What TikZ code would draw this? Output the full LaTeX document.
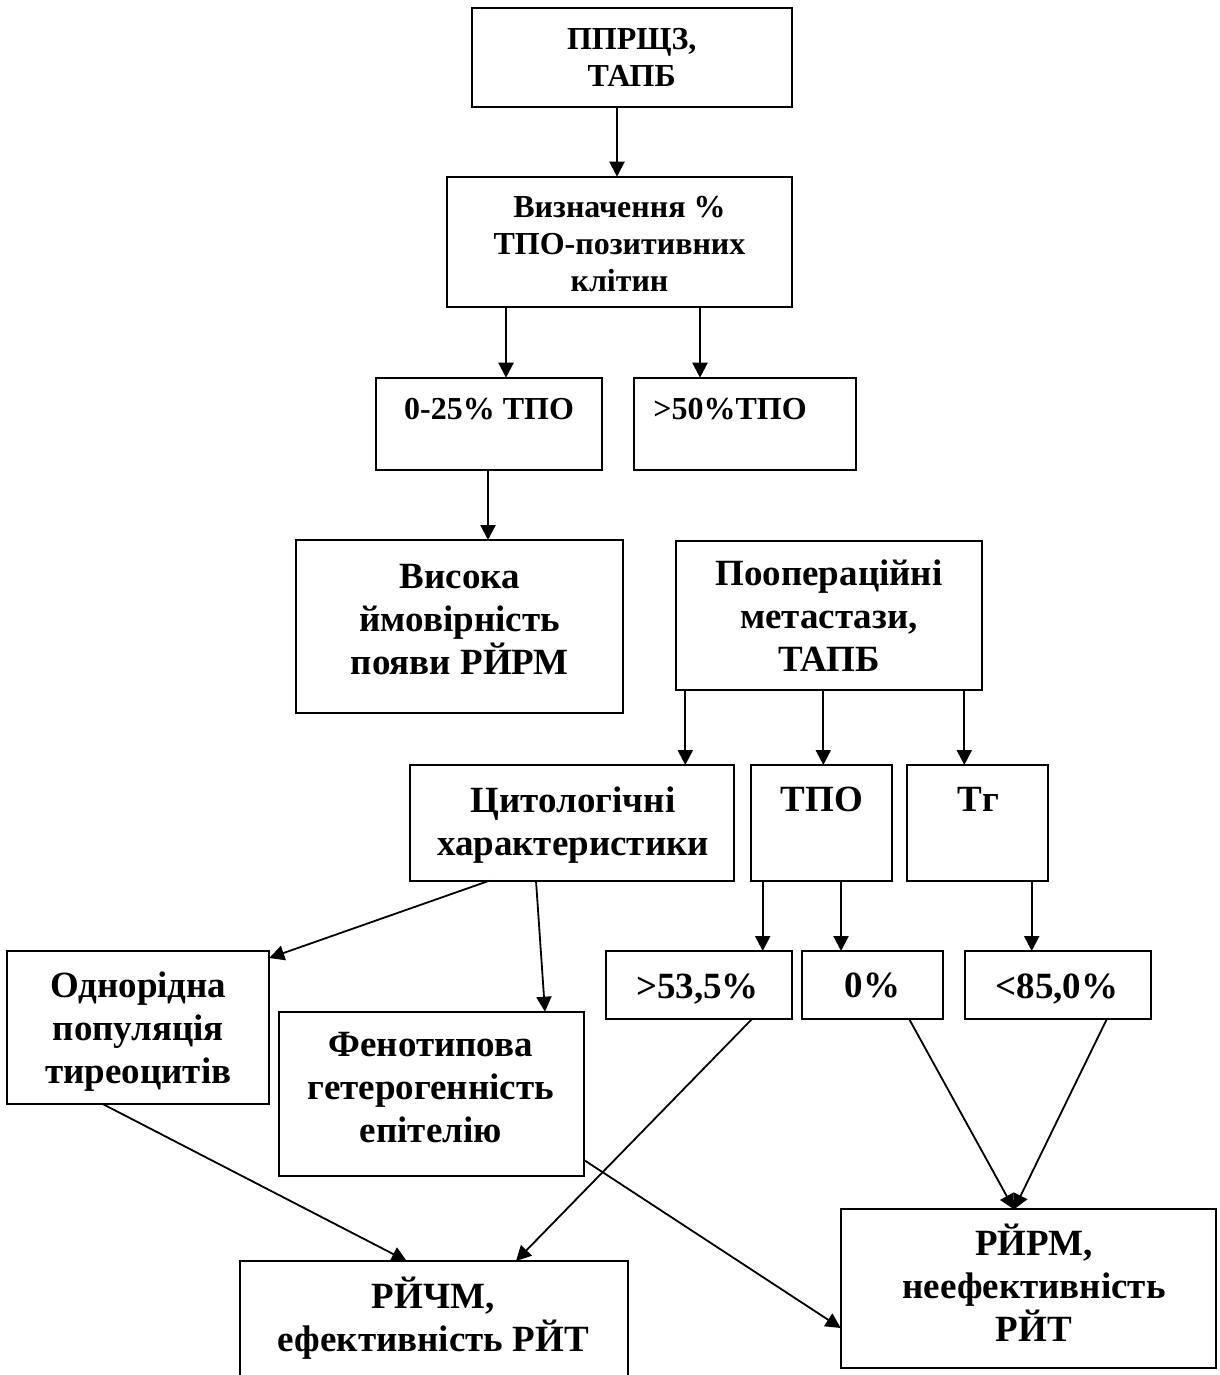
\documentclass[tikz,border=0pt]{standalone}
\usepackage{fontspec}
\setmainfont{Liberation Serif}
\usetikzlibrary{arrows.meta,positioning,calc}
\tikzset{
  >={Triangle[length=15pt,width=15pt]},
  every node/.style={inner sep=0pt,outer sep=0pt,text=black},
  box/.style={draw=black,line width=2.2pt,anchor=north west},
  txt/.style={font=\fontsize{32}{37}\selectfont\bfseries,align=center},
  bigtxt/.style={font=\fontsize{37}{43}\selectfont\bfseries,align=center},
  arrow/.style={->,line width=2.2pt,draw=black},
  slant/.style={->,line width=1.8pt,draw=black},
}

\begin{document}
\begin{tikzpicture}[x=1pt,y=-1pt]
\clip (0,0) rectangle (1219,1375);

% Row 1-3: ТАПБ and ТПО share
\node[box,minimum width=320pt,minimum height=98.4pt] (top) at (471.7,8.3) {};
\node[txt] (topt) at (631.7,57) {ППРЩЗ,\\ТАПБ};
\node[box,minimum width=344.4pt,minimum height=130pt] (vyzn) at (447.3,176.7) {};
\node[txt] (vyznt) at (619.5,244) {Визначення \%\\ТПО-позитивних\\клітин};
\node[box,minimum width=225.7pt,minimum height=92.3pt] (low25) at (376,377.7) {};
\node[txt] (low25t) at (489,409) {0-25\% ТПО};
\node[box,minimum width=222pt,minimum height=92.3pt] (high50) at (634,377.7) {};
\node[txt] (high50t) at (730,409) {>50\%ТПО};
\draw[arrow] (617,0 |- top.south) -- (617,0 |- vyzn.north);
\draw[arrow] (506,0 |- vyzn.south) -- (506,0 |- low25.north);
\draw[arrow] (700,0 |- vyzn.south) -- (700,0 |- high50.north);

% Row 4: prognosis and metastases
\node[box,minimum width=327.3pt,minimum height=173.3pt] (vysoka) at (296,540) {};
\node[bigtxt] (vysokat) at (459.7,620) {Висока\\ймовірність\\появи РЙРМ};
\node[box,minimum width=305.7pt,minimum height=149.3pt] (meta) at (676,540.7) {};
\node[bigtxt] (metat) at (829,616) {Поопераційні\\метастази,\\ТАПБ};
\draw[arrow] (488,0 |- low25.south) -- (488,0 |- vysoka.north);

% Row 5: cytology, ТПО, Тг
\node[box,minimum width=324.3pt,minimum height=115.7pt] (cyto) at (410,765) {};
\node[bigtxt] (cytot) at (573,825) {Цитологічні\\характеристики};
\node[box,minimum width=141.3pt,minimum height=115.7pt] (tpo) at (751,765) {};
\node[bigtxt] (tpot) at (822,799) {ТПО};
\node[box,minimum width=141.6pt,minimum height=115.7pt] (tg) at (906.7,765) {};
\node[bigtxt] (tgt) at (978.3,799) {Тг};
\draw[arrow] (685.3,0 |- meta.south) -- (685.3,0 |- cyto.north);
\draw[arrow] (823.3,0 |- meta.south) -- (823.3,0 |- tpo.north);
\draw[arrow] (964.3,0 |- meta.south) -- (964.3,0 |- tg.north);

% Row 6: cell types and thresholds
\node[box,minimum width=262pt,minimum height=153.3pt] (odn) at (7.3,950.7) {};
\node[bigtxt] (odnt) at (138.3,1032) {Однорідна\\популяція\\тиреоцитів};
\node[box,minimum width=305pt,minimum height=164pt] (fen) at (279,1011.7) {};
\node[bigtxt] (fent) at (430.8,1088) {Фенотипова\\гетерогенність\\епітелію};
\node[box,minimum width=186pt,minimum height=68.3pt] (p535) at (606,951) {};
\node[bigtxt] (p535t) at (697.5,988.6) {>53,5\%};
\node[box,minimum width=141pt,minimum height=68.3pt] (p0) at (802.3,951) {};
\node[bigtxt] (p0t) at (872.5,985.5) {0\%};
\node[box,minimum width=186pt,minimum height=68.3pt] (p85) at (965,951) {};
\node[bigtxt] (p85t) at (1057,988.6) {<85,0\%};
\draw[slant] (489.3,0 |- cyto.south) -- (odn.east |- 0,958);
\draw[slant] (536,0 |- cyto.south) -- (545,0 |- fen.north);
\draw[arrow] (762.7,0 |- tpo.south) -- (762.7,0 |- p535.north);
\draw[arrow] (841,0 |- tpo.south) -- (841,0 |- p0.north);
\draw[arrow] (1031.7,0 |- tg.south) -- (1031.7,0 |- p85.north);

% Row 7: outcomes
\node[box,minimum width=388.3pt,minimum height=150pt] (rjchm) at (240,1261) {};
\node[bigtxt] (rjchmt) at (433.3,1318) {РЙЧМ,\\ефективність РЙТ};
\node[box,minimum width=375.3pt,minimum height=158.4pt] (rjrm) at (840.7,1209.3) {};
\node[bigtxt] (rjrmt) at (1034,1282.4) {РЙРМ,\\неефективність\\РЙТ};
\draw[slant] (102.7,0 |- odn.south) -- (406.7,0 |- rjchm.north);
\draw[slant] (751.7,0 |- p535.south) -- (516,0 |- rjchm.north);
\draw[slant] (fen.east |- 0,1160) -- (rjrm.west |- 0,1328);
\draw[slant] (909.3,0 |- p0.south) -- (1014,0 |- rjrm.north);
\draw[slant] (1106.7,0 |- p85.south) -- (1014,0 |- rjrm.north);

\end{tikzpicture}
\end{document}
